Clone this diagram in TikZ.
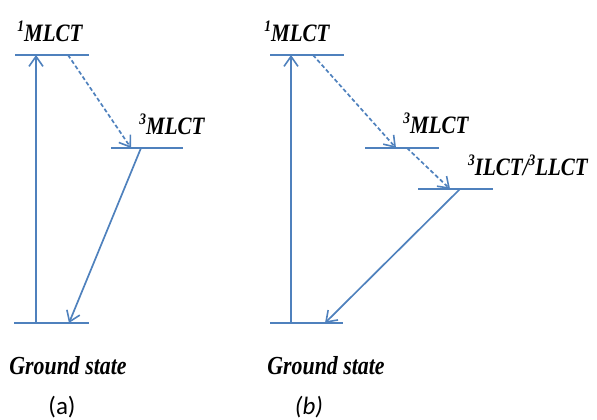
\documentclass[tikz,border=0pt]{standalone}
\usepackage{fontspec}
\setmainfont{Liberation Serif}
\newfontfamily\narrowserif[FakeStretch=0.84]{Liberation Serif}
\newfontfamily\tagfont{Carlito}
\usetikzlibrary{arrows.meta}
\definecolor{lvlblue}{RGB}{79,129,189}
\tikzset{
  level/.style={draw=lvlblue, line width=2.2pt},
  trans/.style={draw=lvlblue, line width=1.7pt, -{Straight Barb[length=10pt,width=14pt,line width=1.6pt]}},
  relax/.style={trans, dash pattern=on 4pt off 2.5pt},
  statelabel/.style={inner sep=0pt, font=\fontsize{25}{27}\selectfont\narrowserif\bfseries\itshape},
  gslabel/.style={inner sep=0pt, font=\fontsize{26}{28}\selectfont\narrowserif\bfseries\itshape},
  panellabel/.style={inner sep=0pt, font=\fontsize{25}{27}\selectfont\tagfont}
}
\newcommand\spinmult[1]{\raisebox{0.4em}{\fontsize{16}{16}\selectfont #1}}
\begin{document}
\begin{tikzpicture}[x=1pt,y=-1pt]
\useasboundingbox (0,0) rectangle (597,420);

% ---- panel (a) ----
\coordinate (a1L) at (15,55);  \coordinate (a1R) at (89,55);
\coordinate (a3L) at (111,148); \coordinate (a3R) at (183,148);
\coordinate (agL) at (14,323); \coordinate (agR) at (89,323);
\draw[level] (a1L) -- (a1R);
\draw[level] (a3L) -- (a3R);
\draw[level] (agL) -- (agR);
\coordinate (aup0) at (36,323); \coordinate (aup1) at (36,55);
\coordinate (ad0) at (68,55);   \coordinate (ad1) at (131,148);
\coordinate (ae0) at (141,148); \coordinate (ae1) at (69,323);
\draw[trans] (aup0) -- (aup1);
\draw[relax] (ad0) -- (ad1);
\draw[trans] (ae0) -- (ae1);
\node[statelabel] (a1lab) at (50,31) {\spinmult{1}MLCT};
\node[statelabel] (a3lab) at (172,124) {\spinmult{3}MLCT};
\node[gslabel] (agslab) at (68,366) {Ground state};
\node[panellabel] (atag) at (62,407) {(a)};

% ---- panel (b) ----
\coordinate (b1L) at (270,55);  \coordinate (b1R) at (344,55);
\coordinate (b3L) at (365,148); \coordinate (b3R) at (439,148);
\coordinate (biL) at (418,189); \coordinate (biR) at (493,189);
\coordinate (bgL) at (270,323); \coordinate (bgR) at (343,323);
\draw[level] (b1L) -- (b1R);
\draw[level] (b3L) -- (b3R);
\draw[level] (biL) -- (biR);
\draw[level] (bgL) -- (bgR);
\coordinate (bup0) at (291,323); \coordinate (bup1) at (291,55);
\coordinate (bd0) at (313,55);  \coordinate (bd1) at (396,148);
\coordinate (bf0) at (407,148); \coordinate (bf1) at (450,189);
\coordinate (be0) at (460,189); \coordinate (be1) at (325,323);
\draw[trans] (bup0) -- (bup1);
\draw[relax] (bd0) -- (bd1);
\draw[relax] (bf0) -- (bf1);
\draw[trans] (be0) -- (be1);
\node[statelabel] (b1lab) at (297,31) {\spinmult{1}MLCT};
\node[statelabel] (b3lab) at (436,123) {\spinmult{3}MLCT};
\node[statelabel] (bilab) at (528,165) {\spinmult{3}ILCT/\spinmult{3}LLCT};
\node[gslabel] (bgslab) at (326,366) {Ground state};
\node[panellabel, font=\fontsize{25}{27}\selectfont\tagfont\itshape] (btag) at (309,407) {(b)};
\end{tikzpicture}
\end{document}
